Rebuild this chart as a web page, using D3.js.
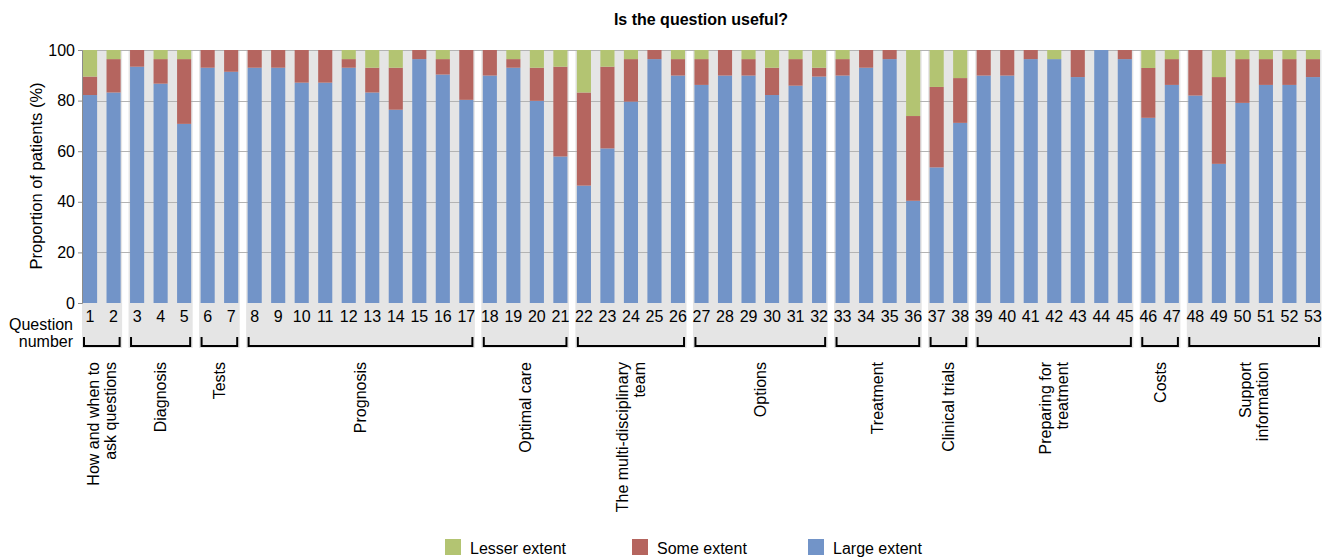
<!DOCTYPE html>
<html>
<head>
<meta charset="utf-8">
<script src="https://cdn.jsdelivr.net/npm/d3@7"></script>
<style>
  html, body { margin: 0; padding: 0; background: #fff; }
  svg { display: block; font-family: "Liberation Sans", Arial, sans-serif; }
</style>
</head>
<body>
<svg id="chart" width="1326" height="557"></svg>
<script>
// ---- Data ----
const questions = ["1","2","3","4","5","6","7","8","9","10","11","12","13","14","15","16","17","18","19","20",
  "21","22","23","24","25","26","27","28","29","30","31","32","33","34","35","36","37","38","39","40",
  "41","42","43","44","45","46","47","48","49","50","51","52","53"];

const largeExtent = [82.2,83.2,93.4,86.7,70.8,93.0,91.4,93.0,93.0,87.1,87.1,93.0,83.2,76.4,96.4,90.3,80.3,89.9,93.0,79.9,
  57.9,46.4,61.1,79.6,96.4,89.9,86.2,89.9,89.9,82.2,85.9,89.5,89.9,93.0,96.4,40.4,53.6,71.2,89.9,89.9,
  96.4,96.4,89.3,100,96.4,73.2,86.2,82.0,55.0,79.1,86.2,86.2,89.3];
const someExtent = [7.3,13.2,6.6,9.7,25.6,7.0,8.6,7.0,7.0,12.9,12.9,3.4,9.8,16.6,3.6,6.1,19.7,10.1,3.4,13.1,
  35.5,36.8,32.3,16.8,3.6,6.5,10.2,10.1,6.5,10.8,10.5,3.5,6.5,7.0,3.6,33.5,31.8,17.7,10.1,10.1,
  3.6,0,10.7,0,3.6,19.7,10.2,18.0,34.3,17.3,10.2,10.2,7.1];
const lesserExtent = [10.5,3.6,0,3.6,3.6,0,0,0,0,0,0,3.6,7.0,7.0,0,3.6,0,0,3.6,7.0,
  6.6,16.8,6.6,3.6,0,3.6,3.6,0,3.6,7.0,3.6,7.0,3.6,0,0,26.1,14.6,11.1,0,0,
  0,3.6,0,0,0,7.1,3.6,0,10.7,3.6,3.6,3.6,3.6];

const groupLabels = [
  ["How and when to","ask questions"],
  ["Diagnosis"],
  ["Tests"],
  ["Prognosis"],
  ["Optimal care"],
  ["The multi-disciplinary","team"],
  ["Options"],
  ["Treatment"],
  ["Clinical trials"],
  ["Preparing for","treatment"],
  ["Costs"],
  ["Support","information"]
];
const groupFirst = ["1","3","6","8","18","22","27","33","37","39","46","48"];
const groupLast  = ["2","5","7","17","21","26","32","36","38","45","47","53"];

const yTicks = [0,20,40,60,80,100];
const seriesKeys = ["large","some","lesser"];
const seriesNames = {lesser:"Lesser extent", some:"Some extent", large:"Large extent"};
const legendOrder = ["lesser","some","large"];

// ---- Styles ----
const colors = {large:"#7294C8", some:"#B5655F", lesser:"#B3C472"};
const bgGray = "#E5E5E5";

// ---- Build ----
const rows = questions.map((q,i) => ({q, large: largeExtent[i], some: someExtent[i], lesser: lesserExtent[i]}));
const stacked = d3.stack().keys(seriesKeys)(rows);

const svg = d3.select("#chart");
const x = d3.scaleBand().domain(questions).range([83, 1320]).paddingInner(0.4).paddingOuter(0);
const y = d3.scaleLinear().domain([0,100]).range([303, 50]);
const bw = x.bandwidth();
const axisX = 82;

// Group gray backgrounds
const groups = groupLabels.map((lab,i) => ({
  lab,
  x0: x(groupFirst[i]) - 1.5,
  x1: x(groupLast[i]) + bw + 1.5,
  bx0: x(groupFirst[i]),
  bx1: x(groupLast[i]) + bw
}));
groups[0].x0 = axisX;

svg.append("g").selectAll("rect").data(groups).join("rect")
  .attr("x", d => d.x0).attr("y", y(100))
  .attr("width", d => d.x1 - d.x0).attr("height", 348 - y(100))
  .attr("fill", bgGray);

// Grid lines
svg.append("g").selectAll("line").data(yTicks.filter(t => t > 0)).join("line")
  .attr("x1", axisX).attr("x2", 1320)
  .attr("y1", d => Math.round(y(d)) + 0.5).attr("y2", d => Math.round(y(d)) + 0.5)
  .attr("stroke", "#B3B3B3").attr("stroke-width", 1);

// Bars
svg.append("g").selectAll("g").data(stacked).join("g")
  .attr("fill", d => colors[d.key])
  .selectAll("rect").data(d => d).join("rect")
  .attr("x", d => x(d.data.q))
  .attr("y", d => y(d[1]))
  .attr("width", bw)
  .attr("height", d => Math.max(0, y(d[0]) - y(d[1])));

// Y axis
const yAxis = d3.axisLeft(y).tickValues(yTicks).tickSize(4).tickPadding(3);
const ga = svg.append("g").attr("transform", `translate(${axisX},0)`).call(yAxis);
ga.select(".domain").attr("stroke", "#8C8C8C");
ga.selectAll(".tick line").attr("stroke", "#8C8C8C");
ga.selectAll(".tick text").attr("font-size", 16).attr("fill", "#000")
  .attr("font-family", "Liberation Sans, Arial, sans-serif");

// Y axis title
svg.append("text")
  .attr("transform", `translate(42,176) rotate(-90)`)
  .attr("text-anchor", "middle")
  .attr("font-size", 16.5)
  .text("Proportion of patients (%)");

// Title
svg.append("text")
  .attr("x", 701).attr("y", 25)
  .attr("text-anchor", "middle")
  .attr("font-size", 16).attr("font-weight", "bold")
  .text("Is the question useful?");

// Question numbers
svg.append("g").selectAll("text").data(questions).join("text")
  .attr("x", d => x(d) + bw / 2).attr("y", 322)
  .attr("text-anchor", "middle").attr("font-size", 16)
  .text(d => d);

svg.append("text").attr("x", 73).attr("y", 330).attr("text-anchor", "end").attr("font-size", 16).text("Question");
svg.append("text").attr("x", 73).attr("y", 347).attr("text-anchor", "end").attr("font-size", 16).text("number");

// Brackets
svg.append("g").selectAll("path").data(groups).join("path")
  .attr("d", d => `M${d.bx0 + 1},337 V346 H${d.bx1 - 1} V337`)
  .attr("fill", "none").attr("stroke", "#000").attr("stroke-width", 2);

// Group labels
const gl = svg.append("g").selectAll("text").data(groups).join("text")
  .attr("transform", d => `translate(${(d.bx0 + d.bx1) / 2},362) rotate(-90)`)
  .attr("text-anchor", "end").attr("font-size", 16);
gl.each(function(d) {
  const t = d3.select(this);
  const n = d.lab.length;
  d.lab.forEach((line, i) => {
    const off = n === 1 ? 0.35 : (i === 0 ? -0.18 : 0.88);
    t.append("tspan").attr("x", 0).attr("y", 0).attr("dy", off + "em").text(line);
  });
});

// Legend
const legendX = {lesser: 445, some: 632, large: 808};
const lg = svg.append("g").selectAll("g").data(legendOrder).join("g")
  .attr("transform", d => `translate(${legendX[d]},539)`);
lg.append("rect").attr("width", 16).attr("height", 16).attr("fill", d => colors[d]);
lg.append("text").attr("x", 25).attr("y", 14.5).attr("font-size", 16).text(d => seriesNames[d]);
</script>
</body>
</html>
